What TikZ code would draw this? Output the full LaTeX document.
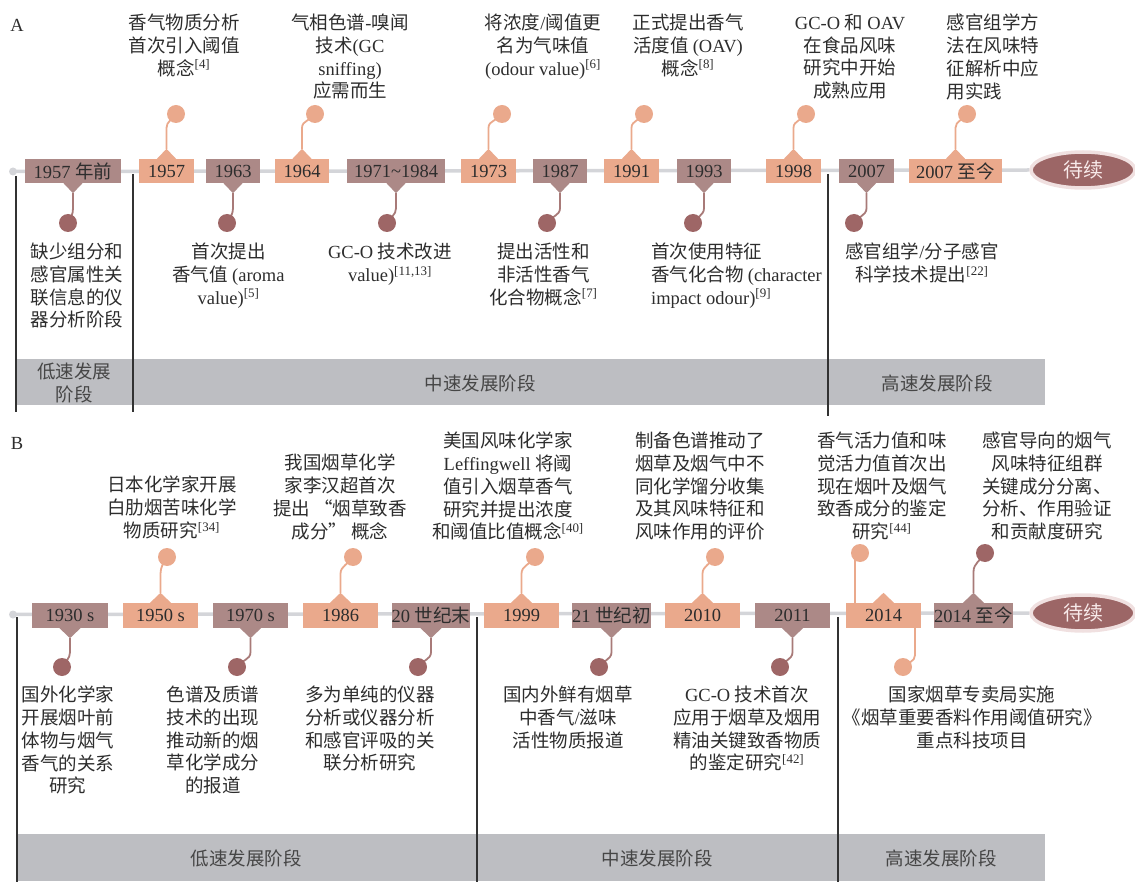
\documentclass[tikz,border=0pt]{standalone}
\usepackage{fontspec}
\setmainfont{Liberation Serif}
\newfontfamily\cjkf{Noto Sans CJK SC}
\newfontfamily\latf{Liberation Serif}
\usetikzlibrary{shapes.geometric}
% automatic switching between Latin and CJK fonts
\XeTeXinterchartokenstate=1
\chardef\CJKc=42
\newcount\cjkcnt
\cjkcnt="3000 \loop\ifnum\cjkcnt<"3040 \XeTeXcharclass\cjkcnt=\CJKc \advance\cjkcnt by 1 \repeat
\cjkcnt="4E00 \loop\ifnum\cjkcnt<"A000 \XeTeXcharclass\cjkcnt=\CJKc \advance\cjkcnt by 1 \repeat
\cjkcnt="FF00 \loop\ifnum\cjkcnt<"FFF0 \XeTeXcharclass\cjkcnt=\CJKc \advance\cjkcnt by 1 \repeat
\XeTeXcharclass"201C=\CJKc
\XeTeXcharclass"201D=\CJKc
\XeTeXinterchartoks 0 \CJKc = {\cjkf}
\XeTeXinterchartoks 4095 \CJKc = {\cjkf}
\XeTeXinterchartoks \CJKc 0 = {\latf}
\XeTeXinterchartoks 4095 0 = {\latf}
\newcommand\txf{\fontsize{18.5}{22.7}\selectfont}
\newcommand\rf[1]{\textsuperscript{[#1]}}
\definecolor{mauve}{RGB}{172,137,135}
\definecolor{sal}{RGB}{234,169,140}
\definecolor{dotm}{RGB}{158,102,102}
\definecolor{linem}{RGB}{168,122,120}
\definecolor{bandc}{RGB}{189,190,194}
\definecolor{tlc}{RGB}{212,213,217}
\definecolor{txt}{RGB}{45,45,45}
\definecolor{bandt}{RGB}{70,70,70}
\definecolor{ellf}{RGB}{156,102,102}
\definecolor{halo}{RGB}{240,224,224}
\definecolor{ellt}{RGB}{248,234,234}
\definecolor{divc}{RGB}{50,50,50}
\tikzset{
  yb/.style={minimum height=24pt, inner sep=0pt, font=\txf, text=txt},
  mb/.style={yb, fill=mauve},
  sb/.style={yb, fill=sal},
  dotS/.style={circle, fill=sal, minimum size=18pt, inner sep=0pt},
  dotM/.style={circle, fill=dotm, minimum size=18pt, inner sep=0pt},
  conS/.style={draw=sal, line width=1.8pt},
  conM/.style={draw=linem, line width=1.8pt},
  lbl/.style={align=center, inner sep=0pt, font=\txf, text=txt, anchor=north, execute at begin node=\strut},
  lbll/.style={lbl, align=left},
  bandlbl/.style={lbl, text=bandt},
  tline/.style={draw=tlc, line width=3.5pt},
  endell/.style={ellipse, fill=ellf, draw=halo, line width=3.5pt, minimum width=104pt, minimum height=36pt, inner sep=0pt, font=\fontsize{20}{24}\selectfont, text=ellt},
  divider/.style={draw=divc, line width=1.3pt},
  panel/.style={inner sep=0pt, font=\txf, text=txt}
}
\begin{document}
\begin{tikzpicture}[x=1pt,y=1pt]
\useasboundingbox (0,0) rectangle (1135,-882);
%================ Panel A ================
\node[panel] (labA) at (17,-25) {A};
\coordinate (tA0) at (13,-171.5);
\node[endell] (endA) at (1083,-170) {待续};
\draw[tline] (tA0) -- (endA.west);
\fill[tlc] (tA0) circle (4pt);
% bands
\fill[bandc] (16,-359) rectangle (1045,-405);
\node[bandlbl] (bA1) at (74,-363) {低速发展\\阶段};
\node[bandlbl] (bA2) at (480,-374) {中速发展阶段};
\node[bandlbl] (bA3) at (937,-374) {高速发展阶段};
% boxes
\node[mb, minimum width=96pt] (a1) at (73,-171) {1957 年前};
\node[sb, minimum width=55pt] (a2) at (166.5,-171) {1957};
\node[mb, minimum width=54pt] (a3) at (233,-171) {1963};
\node[sb, minimum width=54pt] (a4) at (302,-171) {1964};
\node[mb, minimum width=98pt] (a5) at (396,-171) {1971\textasciitilde 1984};
\node[sb, minimum width=55pt] (a6) at (488.5,-171) {1973};
\node[mb, minimum width=54pt] (a7) at (560,-171) {1987};
\node[sb, minimum width=55pt] (a8) at (631.5,-171) {1991};
\node[mb, minimum width=54pt] (a9) at (704,-171) {1993};
\node[sb, minimum width=55pt] (a10) at (793.5,-171) {1998};
\node[mb, minimum width=55pt] (a11) at (866.5,-171) {2007};
\node[sb, minimum width=93pt] (a12) at (955.5,-171) {2007 至今};
% up events
\foreach \n/\cx in {a2/176,a4/315,a6/502,a8/644,a10/806,a12/967}{
  \coordinate (\n-p) at ([yshift=10pt]\n.north);
  \coordinate (\n-c) at (\cx,-114);
  \fill[sal] ([xshift=-10pt,yshift=-0.5pt]\n.north) -- (\n-p) -- ([xshift=10pt,yshift=-0.5pt]\n.north) -- cycle;
  \draw[conS] (\n-p) -- ([yshift=21pt]\n-p) to[out=90,in=-120] (\n-c);
  \node[dotS] (\n-d) at (\n-c) {};
}
% down events
\foreach \n/\cx in {a1/68,a3/227,a5/387,a7/547,a9/693,a11/854}{
  \coordinate (\n-p) at ([yshift=-10pt]\n.south);
  \coordinate (\n-c) at (\cx,-223);
  \fill[mauve] ([xshift=-10pt,yshift=0.5pt]\n.south) -- (\n-p) -- ([xshift=10pt,yshift=0.5pt]\n.south) -- cycle;
  \draw[conM] (\n-p) -- ([yshift=-15pt]\n-p) to[out=-90,in=60] (\n-c);
  \node[dotM] (\n-d) at (\n-c) {};
}
% top texts A
\node[lbl] (ta2) at (184,-14) {香气物质分析\\首次引入阈值\\概念\rf{4}};
\node[lbl] (ta4) at (350,-14) {气相色谱-嗅闻\\技术(GC\\sniffing)\\应需而生};
\node[lbl] (ta6) at (543,-14) {将浓度/阈值更\\名为气味值\\(odour value)\rf{6}};
\node[lbl] (ta8) at (688,-14) {正式提出香气\\活度值 (OAV)\\概念\rf{8}};
\node[lbl] (ta10) at (850,-14) {GC-O 和 OAV\\在食品风味\\研究中开始\\成熟应用};
\node[lbll] (ta12) at (993,-14) {感官组学方\\法在风味特\\征解析中应\\用实践};
% bottom texts A
\node[lbl] (ta1) at (77,-243) {缺少组分和\\感官属性关\\联信息的仪\\器分析阶段};
\node[lbl] (ta3) at (228.5,-243) {首次提出\\香气值 (aroma\\value)\rf{5}};
\node[lbl] (ta5) at (390,-243) {GC-O 技术改进\\value)\rf{11,13}};
\node[lbl] (ta7) at (543.5,-243) {提出活性和\\非活性香气\\化合物概念\rf{7}};
\node[lbll, anchor=north west] (ta9) at (651,-243) {首次使用特征\\香气化合物 (character\\impact odour)\rf{9}};
\node[lbl] (ta11) at (922,-243) {感官组学/分子感官\\科学技术提出\rf{22}};
% dividers A
\coordinate (dA1t) at (16,-176); \coordinate (dA1b) at (16,-412);
\coordinate (dA2t) at (133,-174); \coordinate (dA2b) at (133,-412);
\coordinate (dA3t) at (828,-174); \coordinate (dA3b) at (828,-416);
\draw[divider] (dA1t) -- (dA1b);
\draw[divider] (dA2t) -- (dA2b);
\draw[divider] (dA3t) -- (dA3b);
%================ Panel B ================
\node[panel] (labB) at (17,-443) {B};
\coordinate (tB0) at (13,-614.5);
\node[endell] (endB) at (1083,-613) {待续};
\draw[tline] (tB0) -- (endB.west);
\fill[tlc] (tB0) circle (4pt);
% bands
\fill[bandc] (16,-834) rectangle (1045,-881);
\node[bandlbl] (bB1) at (246,-849) {低速发展阶段};
\node[bandlbl] (bB2) at (657,-849) {中速发展阶段};
\node[bandlbl] (bB3) at (941,-849) {高速发展阶段};
% boxes
\node[mb, minimum width=76pt, minimum height=25pt] (b1) at (70,-615.5) {1930 s};
\node[sb, minimum width=75pt, minimum height=25pt] (b2) at (160.5,-615.5) {1950 s};
\node[mb, minimum width=75pt, minimum height=25pt] (b3) at (250.5,-615.5) {1970 s};
\node[sb, minimum width=75pt, minimum height=25pt] (b4) at (340.5,-615.5) {1986};
\node[mb, minimum width=76pt, minimum height=25pt] (b5) at (431,-615.5) {20 世纪末};
\node[sb, minimum width=75pt, minimum height=25pt] (b6) at (521.5,-615.5) {1999};
\node[mb, minimum width=75pt, minimum height=25pt] (b7) at (611.5,-615.5) {21 世纪初};
\node[sb, minimum width=75pt, minimum height=25pt] (b8) at (702.5,-615.5) {2010};
\node[mb, minimum width=75pt, minimum height=25pt] (b9) at (792.5,-615.5) {2011};
\node[sb, minimum width=75pt, minimum height=25pt] (b10) at (883.5,-615.5) {2014};
\node[mb, minimum width=75pt, minimum height=25pt] (b11) at (973.5,-615.5) {2014 至今};
% up events B
\foreach \n/\cx in {b2/167,b4/353,b6/535,b8/715}{
  \coordinate (\n-p) at ([yshift=10pt]\n.north);
  \coordinate (\n-c) at (\cx,-557);
  \fill[sal] ([xshift=-11pt,yshift=-0.5pt]\n.north) -- (\n-p) -- ([xshift=11pt,yshift=-0.5pt]\n.north) -- cycle;
  \draw[conS] (\n-p) -- ([yshift=19pt]\n-p) to[out=90,in=-120] (\n-c);
  \node[dotS] (\n-d) at (\n-c) {};
}
\coordinate (b11-p) at ([yshift=10pt]b11.north);
\coordinate (b11-c) at (985,-553);
\fill[mauve] ([xshift=-11pt,yshift=-0.5pt]b11.north) -- (b11-p) -- ([xshift=11pt,yshift=-0.5pt]b11.north) -- cycle;
\draw[conM] (b11-p) -- ([yshift=21pt]b11-p) to[out=90,in=-120] (b11-c);
\node[dotM] (b11-d) at (b11-c) {};
% 2014 (two connectors)
\coordinate (b10-p) at ([yshift=10pt]b10.north);
\fill[sal] ([xshift=-11pt,yshift=-0.5pt]b10.north) -- (b10-p) -- ([xshift=11pt,yshift=-0.5pt]b10.north) -- cycle;
\coordinate (b10-c) at (860,-553);
\draw[conS] ([xshift=-28.5pt]b10.north) -- ([xshift=-5pt]b10-c);
\node[dotS] (b10-d) at (b10-c) {};
\coordinate (b10-q) at ([xshift=31.5pt]b10.south);
\coordinate (b10-e) at (903,-667);
\draw[conS] (b10-q) -- ([yshift=-27pt]b10-q) to[out=-90,in=45] (b10-e);
\node[dotS] (b10-f) at (b10-e) {};
% down events B
\foreach \n/\cx in {b1/62,b3/237,b5/418,b7/599,b9/780}{
  \coordinate (\n-p) at ([yshift=-10pt]\n.south);
  \coordinate (\n-c) at (\cx,-667);
  \fill[mauve] ([xshift=-11pt,yshift=0.5pt]\n.south) -- (\n-p) -- ([xshift=11pt,yshift=0.5pt]\n.south) -- cycle;
  \draw[conM] (\n-p) -- ([yshift=-14pt]\n-p) to[out=-90,in=60] (\n-c);
  \node[dotM] (\n-d) at (\n-c) {};
}
% top texts B
\node[lbl] (tb2) at (172,-476) {日本化学家开展\\白肋烟苦味化学\\物质研究\rf{34}};
\node[lbl] (tb4) at (340,-454) {我国烟草化学\\家李汉超首次\\提出 “烟草致香\\成分” 概念};
\node[lbl] (tb6) at (508,-432) {美国风味化学家\\Leffingwell 将阈\\值引入烟草香气\\研究并提出浓度\\和阈值比值概念\rf{40}};
\node[lbl] (tb8) at (700,-432) {制备色谱推动了\\烟草及烟气中不\\同化学馏分收集\\及其风味特征和\\风味作用的评价};
\node[lbl] (tb10) at (882,-432) {香气活力值和味\\觉活力值首次出\\现在烟叶及烟气\\致香成分的鉴定\\研究\rf{44}};
\node[lbl] (tb11) at (1047,-432) {感官导向的烟气\\风味特征组群\\关键成分分离、\\分析、作用验证\\和贡献度研究};
% bottom texts B
\node[lbl] (tb1) at (68,-686) {国外化学家\\开展烟叶前\\体物与烟气\\香气的关系\\研究};
\node[lbl] (tb3) at (213,-686) {色谱及质谱\\技术的出现\\推动新的烟\\草化学成分\\的报道};
\node[lbl] (tb5) at (370,-686) {多为单纯的仪器\\分析或仪器分析\\和感官评吸的关\\联分析研究};
\node[lbl] (tb7) at (568,-686) {国内外鲜有烟草\\中香气/滋味\\活性物质报道};
\node[lbl] (tb9) at (747,-686) {GC-O 技术首次\\应用于烟草及烟用\\精油关键致香物质\\的鉴定研究\rf{42}};
\node[lbl] (tb10) at (972,-686) {国家烟草专卖局实施\\《烟草重要香料作用阈值研究》\\重点科技项目};
% dividers B
\coordinate (dB1t) at (17,-617); \coordinate (dB1b) at (17,-882);
\coordinate (dB2t) at (477,-617); \coordinate (dB2b) at (477,-882);
\coordinate (dB3t) at (838,-617); \coordinate (dB3b) at (838,-882);
\draw[divider] (dB1t) -- (dB1b);
\draw[divider] (dB2t) -- (dB2b);
\draw[divider] (dB3t) -- (dB3b);
\end{tikzpicture}
\end{document}
